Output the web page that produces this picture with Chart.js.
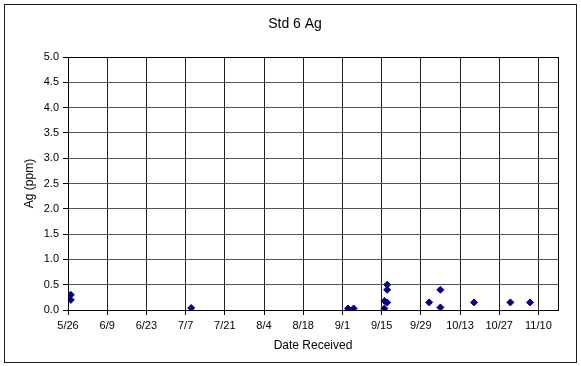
<!DOCTYPE html>
<html>
<head>
<meta charset="utf-8">
<script src="https://cdn.jsdelivr.net/npm/chart.js@4/dist/chart.umd.min.js"></script>
<style>
  html, body { margin: 0; padding: 0; background: #fff; }
  #wrap { width: 581px; height: 366px; }
</style>
</head>
<body>
<div id="wrap"><canvas id="c" width="581" height="366"></canvas></div>
<script>
// Sample receipt dates and measured silver (ppm) for standard 6
const receivedDates = ['5/27', '5/27', '7/9', '9/3', '9/5', '9/16', '9/16', '9/17', '9/17', '9/17',
                       '10/2', '10/6', '10/6', '10/18', '10/31', '11/7'];
const agValues = [0.30, 0.20, 0.04, 0.03, 0.03, 0.03, 0.18, 0.15, 0.50, 0.40,
                  0.15, 0.40, 0.05, 0.15, 0.15, 0.15];

// Axis tick labels (every two weeks) and range
const xTickLabels = ['5/26', '6/9', '6/23', '7/7', '7/21', '8/4', '8/18', '9/1', '9/15', '9/29', '10/13', '10/27', '11/10'];
const xEndLabel = '11/17';
const yTickLabels = ['0.0', '0.5', '1.0', '1.5', '2.0', '2.5', '3.0', '3.5', '4.0', '4.5', '5.0'];

const YEAR = 2005;
const FONT = '"Liberation Sans", Arial, sans-serif';

function dayNumber(md) {
  const [m, d] = md.split('/').map(Number);
  return Math.round((Date.UTC(YEAR, m - 1, d) - Date.UTC(YEAR, 4, 26)) / 86400000);
}

const xTickDays = xTickLabels.map(dayNumber);
const xMax = dayNumber(xEndLabel);
const yTickValues = yTickLabels.map(Number);
const points = receivedDates.map((d, i) => ({ x: dayNumber(d), y: agValues[i] }));
const labelForDay = {};
xTickDays.forEach((d, i) => { labelForDay[d] = xTickLabels[i]; });

// Frame around the plot area and around the whole chart
const frames = {
  id: 'frames',
  beforeDraw(chart) {
    const c = chart.ctx;
    c.save();
    c.fillStyle = '#fff';
    c.fillRect(0, 0, chart.width, chart.height);
    c.restore();
  },
  afterDraw(chart) {
    const c = chart.ctx;
    const a = chart.chartArea;
    c.save();
    c.strokeStyle = '#000';
    c.lineWidth = 1;
    c.strokeRect(Math.round(a.left) + 0.5, Math.round(a.top) + 0.5,
                 Math.round(a.right - a.left), Math.round(a.bottom - a.top));
    c.strokeStyle = '#1a1a1a';
    c.strokeRect(4.5, 4.5, 572, 358);
    c.restore();
  }
};

new Chart(document.getElementById('c'), {
  type: 'scatter',
  data: {
    datasets: [{
      data: points,
      pointStyle: 'rectRot',
      pointRadius: 3.5,
      pointHoverRadius: 3.5,
      backgroundColor: '#000080',
      borderColor: '#000080',
      borderWidth: 1
    }]
  },
  plugins: [frames],
  options: {
    responsive: false,
    animation: false,
    devicePixelRatio: 1,
    layout: { padding: { left: 9, right: 0, top: 0, bottom: 0 } },
    plugins: {
      legend: { display: false },
      tooltip: { enabled: false },
      title: {
        display: true,
        text: 'Std 6 Ag',
        color: '#000',
        font: { family: FONT, size: 14, weight: 'normal' },
        padding: { top: 15.6, bottom: 24.6 }
      }
    },
    scales: {
      x: {
        type: 'linear',
        min: 0,
        max: xMax,
        afterBuildTicks: s => { s.ticks = xTickDays.map(v => ({ value: v })); },
        afterFit: s => { s.height = 56; },
        ticks: {
          autoSkip: false,
          maxRotation: 0,
          minRotation: 0,
          padding: 4,
          color: '#000',
          font: { family: FONT, size: 11 },
          callback: v => labelForDay[v] ?? ''
        },
        grid: { color: '#222', tickColor: '#000', tickLength: 5, lineWidth: 1 },
        border: { color: '#000', width: 1 },
        title: {
          display: true,
          text: 'Date Received',
          color: '#000',
          font: { family: FONT, size: 12 },
          padding: { top: 0, bottom: 12.8 }
        }
      },
      y: {
        type: 'linear',
        min: 0,
        max: 5,
        afterBuildTicks: s => { s.ticks = yTickValues.map(v => ({ value: v })); },
        afterFit: s => { s.width = 59; },
        ticks: {
          padding: 4,
          color: '#000',
          font: { family: FONT, size: 11 },
          callback: v => yTickLabels[yTickValues.indexOf(v)] ?? ''
        },
        grid: { color: '#555', tickColor: '#000', tickLength: 5, lineWidth: 1 },
        border: { color: '#000', width: 1 },
        title: {
          display: true,
          text: 'Ag (ppm)',
          color: '#000',
          font: { family: FONT, size: 12 },
          padding: { top: 13, bottom: 0 }
        }
      },
      yRight: {
        position: 'right',
        display: true,
        grid: { display: false },
        border: { display: false },
        ticks: { display: false },
        afterFit: s => { s.width = 23; }
      }
    }
  }
});
</script>
</body>
</html>
